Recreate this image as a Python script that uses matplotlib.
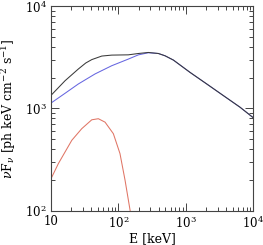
import matplotlib
matplotlib.use("Agg")
import matplotlib.pyplot as plt
from matplotlib.ticker import LogLocator, NullFormatter, FixedLocator, FixedFormatter

plt.rcParams['mathtext.fontset'] = 'dejavuserif'
plt.rcParams['font.family'] = ['DejaVu Serif']

# total spectrum
E_total = [10, 16.3, 25.6, 33, 40.5, 57, 80, 141, 199, 279, 393, 493, 655, 1158, 2047, 3608, 6370, 10000]
F_total = [1334, 1866, 2427, 2780, 3000, 3250, 3320, 3340, 3443, 3524, 3443, 3270, 2970, 2249, 1733, 1334, 1027, 811]

# non-thermal component
E_blue = [10, 16.3, 25.6, 45.3, 80, 141, 199, 279, 393, 493, 655, 1158, 2047, 3608, 6370, 10000]
F_blue = [1124, 1406, 1733, 2173, 2614, 3036, 3340, 3500, 3443, 3270, 2970, 2249, 1733, 1334, 1027, 811]

# thermal component
E_red = [10, 12.97, 20.5, 28.8, 40.5, 50.7, 63.7, 84.6, 106, 126, 150]
F_red = [203, 289, 488, 634, 774, 793, 734, 566, 362, 199, 100]

xticks = [10, 100, 1000, 10000]
xticklabels = ['10', r'10$^2$', r'10$^3$', r'10$^4$']
yticks = [100, 1000, 10000]
yticklabels = [r'10$^2$', r'10$^3$', r'10$^4$']

fig = plt.figure(figsize=(2.63, 2.45), dpi=100)
ax = fig.add_axes([0.193, 0.140, 0.770, 0.835])

ax.plot(E_red, F_red, color='#e07565', lw=0.75)
ax.plot(E_blue, F_blue, color='#6666e0', lw=0.75)
ax.plot(E_total, F_total, color='#3a3a3a', lw=0.75)

ax.set_xscale('log')
ax.set_yscale('log')
ax.set_xlim(10, 1e4)
ax.set_ylim(100, 1e4)

ax.xaxis.set_major_locator(FixedLocator(xticks))
ax.xaxis.set_major_formatter(FixedFormatter(xticklabels))
ax.yaxis.set_major_locator(FixedLocator(yticks))
ax.yaxis.set_major_formatter(FixedFormatter(yticklabels))
ax.xaxis.set_minor_locator(LogLocator(base=10, subs=range(2, 10)))
ax.yaxis.set_minor_locator(LogLocator(base=10, subs=range(2, 10)))
ax.xaxis.set_minor_formatter(NullFormatter())
ax.yaxis.set_minor_formatter(NullFormatter())

ax.tick_params(which='both', direction='in', top=True, right=True, color='#444444', width=0.7,
               labelsize=8.5, pad=3)
ax.tick_params(which='major', length=6)
ax.tick_params(which='minor', length=3)
for s in ax.spines.values():
    s.set_color('#444444')
    s.set_linewidth(0.8)

ax.set_xlabel('E [keV]', fontsize=9, labelpad=1)
ax.set_ylabel(r'$\nu$F$_\nu$ [ph keV cm$^{-2}$ s$^{-1}$]', fontsize=9, labelpad=5)

fig.savefig('out.png', dpi=100)
